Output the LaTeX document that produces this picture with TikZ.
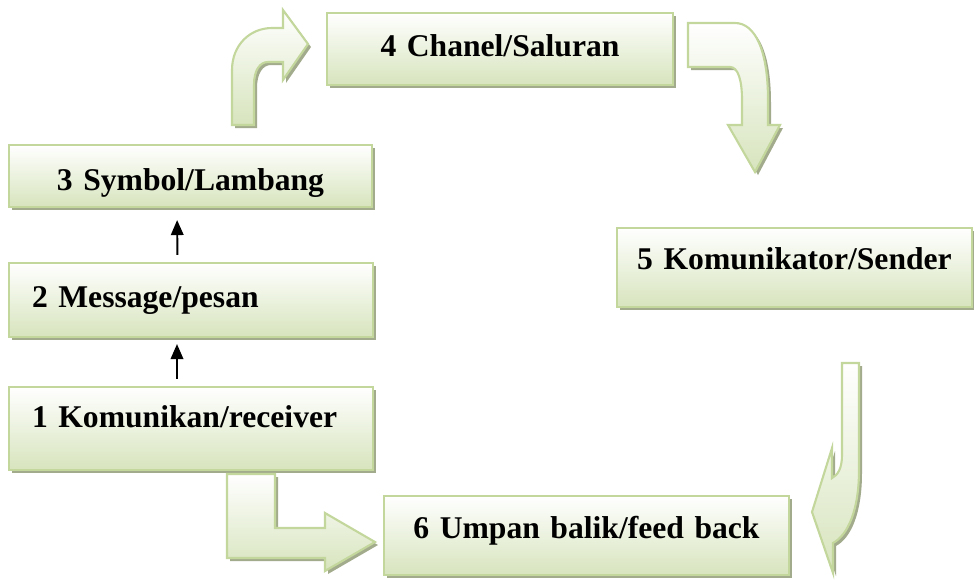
\documentclass[tikz,border=0pt]{standalone}
\usepackage{fontspec}
\setmainfont{Liberation Serif}
\usepackage{tikz}
\usetikzlibrary{shadows}
\usetikzlibrary{arrows.meta}
\usetikzlibrary{positioning}
\definecolor{boxborder}{HTML}{C3D69B}
\definecolor{boxfill}{HTML}{D7E4BD}
\definecolor{shadowgreen}{HTML}{A2AB8C}
\tikzset{stagebox/.style={draw=boxborder, line width=1.2pt, top color=white, bottom color=boxfill, inner sep=0pt, align=center, font=\bfseries\fontsize{18}{21}\selectfont, drop shadow={shadow xshift=0.06cm, shadow yshift=-0.06cm, fill=shadowgreen, opacity=1}}}
\tikzset{blockarrow/.style={draw=boxborder, line width=1.2pt, top color=white, bottom color=boxfill, drop shadow={shadow xshift=0.06cm, shadow yshift=-0.06cm, fill=shadowgreen, opacity=1}}}
\tikzset{thinarrow/.style={-{Triangle[width=0.25cm, length=0.3cm]}, line width=1.1pt}}

\begin{document}
\begin{tikzpicture}[x=0.02cm, y=-0.02cm]
\useasboundingbox (0,0) rectangle (974,579);
% the six stages
\node [stagebox, text width=6.92cm, text height=0.86cm, text depth=0.58cm] (chanel) at (500,49) {4 Chanel/Saluran};
\node [stagebox, text width=7.26cm, text height=0.90cm, text depth=0.34cm] (symbol) at (190.5,176) {3 Symbol/Lambang};
\node [stagebox, text width=6.36cm, inner xsep=0.46cm, align=left, text height=0.88cm, text depth=0.60cm] (message) at (191,300) {2 Message/pesan};
\node [stagebox, text width=6.36cm, inner xsep=0.46cm, align=left, text height=0.80cm, text depth=0.86cm] (komunikan) at (191,428.5) {1 Komunikan/receiver};
\node [stagebox, text width=7.10cm, text height=0.82cm, text depth=0.76cm] (komunikator) at (794.5,267.5) {5 Komunikator/Sender};
\node [stagebox, text width=8.10cm, text height=0.84cm, text depth=0.74cm] (umpan) at (586.5,535.5) {6 Umpan balik/feed back};

% small arrows
\draw [thinarrow, shorten <=0.14cm, shorten >=0.12cm] ([xshift=-0.28cm]komunikan.north) -- ([xshift=-0.28cm]message.south);
\draw [thinarrow, shorten <=0.14cm, shorten >=0.24cm] ([xshift=-0.27cm]message.north) -- ([xshift=-0.27cm]symbol.south);

% block arrows
\draw [blockarrow] (232,125) -- (232,70) .. controls (232,45) and (250,28) .. (272,28) -- (283,28) -- (283,10) -- (308,44) -- (283,80) -- (283,62) -- (268,62) .. controls (260,62) and (254,70) .. (254,85) -- (254,125) -- cycle;
\draw [blockarrow] (688,23) -- (735,23) .. controls (755,23) and (768,50) .. (768,100) -- (768,125) -- (780,125) -- (755,172) -- (728,125) -- (742,125) -- (742,100) .. controls (742,80) and (738,67) .. (730,67) -- (688,67) -- cycle;
\draw [blockarrow] (842,363) -- (859,363) -- (859,470) .. controls (859,510) and (848,535) .. (833,543) -- (833,573) -- (812,512) -- (832,448) -- (832,478) .. controls (838,475) and (842,468) .. (842,455) -- cycle;
\draw [blockarrow] (227,474) -- (275,474) -- (275,528) -- (325,528) -- (325,513) -- (375,542) -- (325,571) -- (325,558) -- (227,558) -- cycle;
\end{tikzpicture}
\end{document}
